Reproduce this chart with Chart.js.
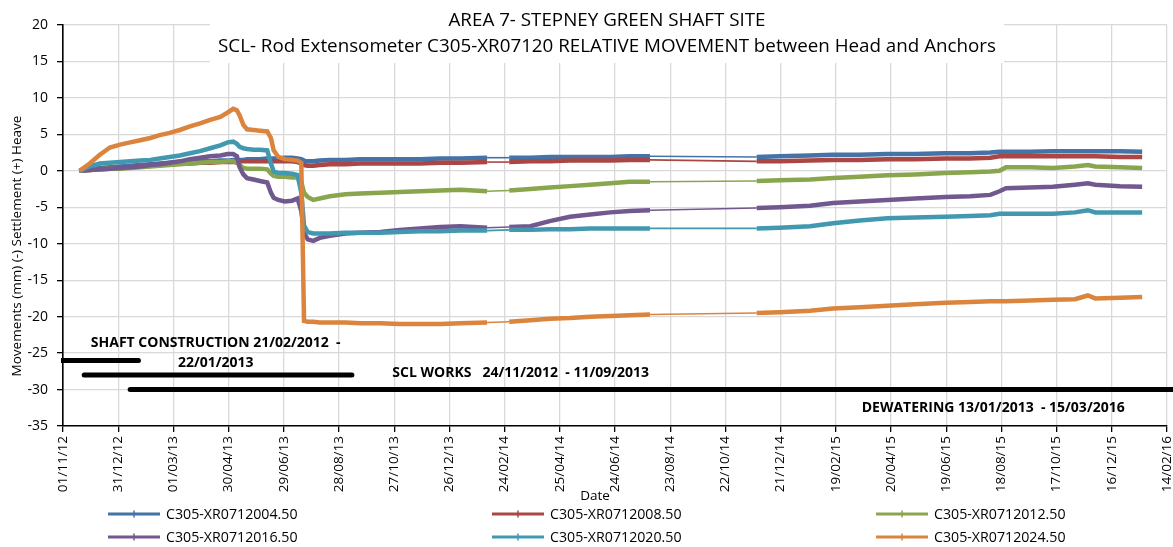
<!DOCTYPE html>
<html>
<head>
<meta charset="utf-8">
<script src="https://cdn.jsdelivr.net/npm/chart.js@4.4.1/dist/chart.umd.min.js"></script>
<style>
  html, body { margin: 0; padding: 0; background: #fff; }
  canvas { display: block; }
</style>
</head>
<body>
<canvas id="chart" width="1173" height="547"></canvas>
<script>
// ---------------------------------------------------------------------------
// Axis settings
// ---------------------------------------------------------------------------
const BASE_DATE = '2012-11-01';          // day 0 on the date axis
const X_MAX_DAY = 1200;                  // 14/02/2016
const X_STEP_DAYS = 60;
const Y_MIN = -35, Y_MAX = 20, Y_STEP = 5;

// ---------------------------------------------------------------------------
// Readings (mm), relative movement between head and anchors
// ---------------------------------------------------------------------------
const readingDates = [
  '2012-11-19','2012-11-30','2012-12-11','2012-12-22','2013-01-02','2013-01-13','2013-01-24',
  '2013-02-04','2013-02-14','2013-02-25','2013-03-08','2013-03-19','2013-03-30','2013-04-10',
  '2013-04-21','2013-04-29','2013-05-05','2013-05-09','2013-05-12','2013-05-16','2013-05-20',
  '2013-05-27','2013-06-03','2013-06-11','2013-06-15','2013-06-18','2013-06-23','2013-06-30',
  '2013-07-08','2013-07-14','2013-07-18','2013-07-21','2013-07-25','2013-07-31','2013-08-07',
  '2013-08-18','2013-09-04','2013-09-20','2013-10-12','2013-11-02','2013-11-24','2013-12-16',
  '2014-01-07','2014-02-05','2014-03-01','2014-03-24','2014-04-14','2014-05-06','2014-05-28',
  '2014-06-19','2014-07-10','2014-08-01','2014-11-25','2014-12-20','2015-01-22','2015-02-16',
  '2015-03-17','2015-04-16','2015-05-16','2015-06-18','2015-07-15','2015-08-06','2015-08-16',
  '2015-08-23','2015-09-18','2015-10-13','2015-11-06','2015-11-20','2015-11-28','2015-12-25',
  '2016-01-18'
];

// readings resume after these dates (no logging in between)
const gapStarts = ['2014-02-05', '2014-08-01'];

const seriesNames = [
  'C305-XR0712004.50', 'C305-XR0712008.50', 'C305-XR0712012.50',
  'C305-XR0712016.50', 'C305-XR0712020.50', 'C305-XR0712024.50'
];
const seriesColors = ['#4572A7', '#AA4643', '#89A54E', '#71588F', '#4198AF', '#DB843D'];

const xr004 = [
  0, 0.2, 0.4, 0.5, 0.6, 0.7, 0.8, 0.9, 1.0, 1.1, 1.2, 1.2, 1.3, 1.3,
  1.4, 1.4, 1.5, 1.5, 1.5, 1.5, 1.6, 1.6, 1.6, 1.7, 1.7, 1.7, 1.7, 1.8,
  1.8, 1.7, 1.6, 1.4, 1.3, 1.3, 1.4, 1.5, 1.5, 1.6, 1.6, 1.6, 1.6, 1.7,
  1.7, 1.8, 1.8, 1.8, 1.9, 1.9, 1.9, 1.9, 2.0, 2.0, 1.9, 2.0, 2.1, 2.2,
  2.2, 2.3, 2.3, 2.4, 2.4, 2.5, 2.6, 2.6, 2.6, 2.7, 2.7, 2.7, 2.7, 2.7,
  2.6
];
const xr008 = [
  0, 0.1, 0.2, 0.3, 0.4, 0.5, 0.6, 0.7, 0.8, 0.9, 1.0, 1.0, 1.1, 1.1,
  1.2, 1.2, 1.2, 1.2, 1.3, 1.3, 1.3, 1.3, 1.3, 1.3, 1.3, 1.3, 1.3, 1.3,
  1.3, 1.2, 1.0, 0.8, 0.7, 0.7, 0.8, 0.9, 0.9, 1.0, 1.0, 1.0, 1.0, 1.1,
  1.1, 1.2, 1.2, 1.3, 1.3, 1.4, 1.4, 1.4, 1.5, 1.5, 1.3, 1.3, 1.4, 1.5,
  1.5, 1.6, 1.6, 1.7, 1.7, 1.8, 2.0, 2.0, 2.0, 2.0, 2.0, 2.0, 2.0, 1.9,
  1.9
];
const xr012 = [
  0, 0.1, 0.2, 0.3, 0.3, 0.4, 0.5, 0.6, 0.7, 0.8, 0.9, 1.0, 1.1, 1.2,
  1.2, 1.3, 1.3, 1.1, 0.8, 0.4, 0.3, 0.3, 0.3, 0.2, -0.4, -0.7, -0.8, -0.8,
  -0.9, -0.9, -1.5, -3.0, -3.6, -4.0, -3.8, -3.5, -3.2, -3.1, -3.0, -2.9, -2.8, -2.7,
  -2.6, -2.8, -2.7, -2.5, -2.3, -2.1, -1.9, -1.7, -1.5, -1.5, -1.4, -1.3, -1.2, -1.0,
  -0.8, -0.6, -0.5, -0.3, -0.2, -0.1, 0.0, 0.5, 0.5, 0.4, 0.6, 0.8, 0.6, 0.5,
  0.4
];
const xr016 = [
  0, 0.1, 0.2, 0.3, 0.4, 0.5, 0.6, 0.8, 0.9, 1.1, 1.3, 1.6, 1.8, 2.0,
  2.1, 2.3, 2.3, 2.0, 0.5, -0.5, -1.0, -1.2, -1.4, -1.6, -3.0, -3.7, -4.0, -4.2,
  -4.1, -3.8, -5.5, -8.5, -9.4, -9.6, -9.2, -8.9, -8.6, -8.5, -8.4, -8.1, -7.9, -7.7,
  -7.6, -7.8, -7.7, -7.6, -6.9, -6.3, -6.0, -5.7, -5.5, -5.4, -5.1, -5.0, -4.8, -4.4,
  -4.2, -4.0, -3.8, -3.6, -3.5, -3.3, -2.8, -2.4, -2.3, -2.2, -1.9, -1.7, -1.9, -2.1,
  -2.2
];
const xr020 = [
  0, 0.6, 1.0, 1.1, 1.2, 1.3, 1.4, 1.5, 1.7, 1.9, 2.1, 2.4, 2.7, 3.1,
  3.5, 3.9, 4.0, 3.7, 3.3, 3.1, 3.0, 2.9, 2.9, 2.8, 1.0, -0.1, -0.3, -0.3,
  -0.4, -0.6, -3.0, -7.5, -8.4, -8.6, -8.6, -8.6, -8.5, -8.5, -8.5, -8.4, -8.3, -8.3,
  -8.2, -8.2, -8.1, -8.1, -8.0, -8.0, -7.9, -7.9, -7.9, -7.9, -7.9, -7.8, -7.6, -7.2,
  -6.8, -6.5, -6.4, -6.3, -6.2, -6.1, -5.9, -5.9, -5.9, -5.9, -5.7, -5.4, -5.7, -5.7,
  -5.7
];
const xr024 = [
  0, 1.0, 2.2, 3.2, 3.6, 3.9, 4.2, 4.5, 4.9, 5.2, 5.6, 6.1, 6.5, 7.0,
  7.4, 8.0, 8.5, 8.3, 7.6, 6.3, 5.7, 5.6, 5.5, 5.4, 4.5, 2.8, 1.9, 1.6,
  1.5, 1.4, 1.1, -20.6, -20.7, -20.7, -20.8, -20.8, -20.8, -20.9, -20.9, -21.0, -21.0, -21.0,
  -20.9, -20.8, -20.7, -20.5, -20.3, -20.2, -20.0, -19.9, -19.8, -19.7, -19.5, -19.4, -19.2, -18.9,
  -18.7, -18.5, -18.3, -18.1, -18.0, -17.9, -17.9, -17.9, -17.8, -17.7, -17.6, -17.1, -17.5, -17.4,
  -17.3
];
const seriesValues = [xr004, xr008, xr012, xr016, xr020, xr024];

// Site works periods, drawn as bars on the chart
const periodStart = ['2012-02-21', '2012-11-24', '2013-01-13'];
const periodEnd   = ['2013-01-22', '2013-09-11', '2016-03-15'];
const periodLevel = [-26, -28, -30];
const periodText  = [
  ['SHAFT CONSTRUCTION 21/02/2012  -', '22/01/2013'],
  ['SCL WORKS   24/11/2012  - 11/09/2013'],
  ['DEWATERING 13/01/2013  - 15/03/2016']
];

const titleLines = [
  'AREA 7- STEPNEY GREEN SHAFT SITE',
  'SCL- Rod Extensometer C305-XR07120 RELATIVE MOVEMENT between Head and Anchors'
];
const yTitle = 'Movements (mm) (-) Settlement (+) Heave';
const xTitle = 'Date';

// ---------------------------------------------------------------------------
// Helpers
// ---------------------------------------------------------------------------
const FONT = '"Open Sans", "Liberation Sans", sans-serif';
const DAY_MS = 86400000;
function utc(s) { const [y, m, d] = s.split('-').map(Number); return Date.UTC(y, m - 1, d); }
const BASE_MS = utc(BASE_DATE);
function dayOf(s) { return Math.round((utc(s) - BASE_MS) / DAY_MS); }
function pad(n) { return String(n).padStart(2, '0'); }
function fmtDay(v) {
  const d = new Date(BASE_MS + v * DAY_MS);
  return pad(d.getUTCDate()) + '/' + pad(d.getUTCMonth() + 1) + '/' + String(d.getUTCFullYear()).slice(2);
}
const gapDays = gapStarts.map(dayOf);

const datasets = seriesNames.map((name, i) => ({
  label: name,
  data: readingDates.map((d, k) => ({ x: dayOf(d), y: seriesValues[i][k] })),
  borderColor: seriesColors[i],
  backgroundColor: seriesColors[i],
  borderWidth: 4.5,
  pointRadius: 0,
  tension: 0,
  order: 6 - i,
  segment: {
    borderWidth: ctx => gapDays.includes(ctx.p0.parsed.x) ? 1.6 : 4.5
  }
}));

periodStart.forEach((s, i) => {
  datasets.push({
    label: periodText[i][0],
    data: [{ x: dayOf(s), y: periodLevel[i] }, { x: dayOf(periodEnd[i]), y: periodLevel[i] }],
    borderColor: '#000',
    borderWidth: 5,
    borderCapStyle: 'round',
    pointRadius: 0,
    order: 10,
    clip: { left: 2, top: 0, right: 40, bottom: 0 }
  });
});

// ---------------------------------------------------------------------------
// Drawing plugins: title panel, axis titles, period labels, legend
// ---------------------------------------------------------------------------
const titlePanel = {
  id: 'titlePanel',
  beforeDatasetsDraw(chart) {
    const ctx = chart.ctx;
    ctx.save();
    ctx.fillStyle = '#fff';
    ctx.fillRect(210, 0, 794, 63);
    ctx.fillStyle = '#000';
    ctx.textAlign = 'center';
    ctx.textBaseline = 'middle';
    ctx.font = '18.8px ' + FONT;
    ctx.fillText(titleLines[0], 607, 21);
    ctx.fillText(titleLines[1], 607, 47);
    ctx.restore();
  }
};

const annotations = {
  id: 'annotations',
  afterDraw(chart) {
    const ctx = chart.ctx;
    const xs = chart.scales.x, ys = chart.scales.y;
    ctx.save();
    ctx.fillStyle = '#000';
    ctx.textBaseline = 'middle';

    // axis titles
    ctx.font = '13.5px ' + FONT;
    ctx.textAlign = 'center';
    ctx.save();
    ctx.translate(17, 246);
    ctx.rotate(-Math.PI / 2);
    ctx.fillText(yTitle, 0, 0);
    ctx.restore();
    ctx.fillText(xTitle, 595, 496);

    // period labels
    ctx.font = 'bold 14px ' + FONT;
    ctx.textAlign = 'center';
    ctx.fillText(periodText[0][0], xs.getPixelForValue(166), ys.getPixelForValue(-23.6));
    ctx.fillText(periodText[0][1], xs.getPixelForValue(166), ys.getPixelForValue(-26.3));
    ctx.textAlign = 'left';
    ctx.fillText(periodText[1][0], xs.getPixelForValue(358), ys.getPixelForValue(-27.7));
    ctx.textAlign = 'right';
    ctx.fillText(periodText[2][0], xs.getPixelForValue(1154), ys.getPixelForValue(-32.5));

    // legend: three columns, two rows
    ctx.font = '14.2px ' + FONT;
    ctx.textAlign = 'left';
    const cols = [108, 492, 876], rows = [514, 537];
    seriesNames.forEach((name, i) => {
      const x0 = cols[i % 3], y0 = rows[Math.floor(i / 3)];
      ctx.strokeStyle = seriesColors[i];
      ctx.lineWidth = 3;
      ctx.beginPath();
      ctx.moveTo(x0, y0); ctx.lineTo(x0 + 52, y0);
      ctx.stroke();
      ctx.lineWidth = 1.5;
      ctx.beginPath();
      ctx.moveTo(x0 + 26, y0 - 3.5); ctx.lineTo(x0 + 26, y0 + 3.5);
      ctx.stroke();
      ctx.fillStyle = '#000';
      ctx.fillText(name, x0 + 58, y0 + 1);
    });
    ctx.restore();
  }
};

new Chart(document.getElementById('chart'), {
  type: 'line',
  data: { datasets },
  plugins: [titlePanel, annotations],
  options: {
    responsive: false,
    animation: false,
    devicePixelRatio: 1,
    layout: { padding: { top: 25, right: 6, left: 0, bottom: 0 } },
    plugins: { legend: { display: false }, tooltip: { enabled: false }, title: { display: false } },
    scales: {
      x: {
        type: 'linear',
        min: 0,
        max: X_MAX_DAY,
        afterFit(scale) {
          scale.height = 121;
          scale.paddingLeft = 0;
          scale.paddingRight = 0;
        },
        ticks: {
          stepSize: X_STEP_DAYS,
          autoSkip: false,
          minRotation: 90,
          maxRotation: 90,
          padding: 4,
          color: '#000',
          font: { family: FONT, size: 13.5 },
          callback: v => fmtDay(v)
        },
        grid: { color: '#d9d9d9', lineWidth: 1.3, tickLength: 6, tickColor: '#000', tickWidth: 1.3 },
        border: { color: '#000', width: 1.6 }
      },
      y: {
        min: Y_MIN,
        max: Y_MAX,
        afterFit(scale) {
          scale.width = 63;
          scale.paddingTop = 0;
          scale.paddingBottom = 0;
        },
        ticks: {
          stepSize: Y_STEP,
          padding: 9,
          color: '#000',
          font: { family: FONT, size: 14 }
        },
        grid: { color: '#d9d9d9', lineWidth: 1.3, tickLength: 6, tickColor: '#000', tickWidth: 1.3 },
        border: { color: '#000', width: 1.6 }
      }
    }
  }
});
</script>
</body>
</html>
